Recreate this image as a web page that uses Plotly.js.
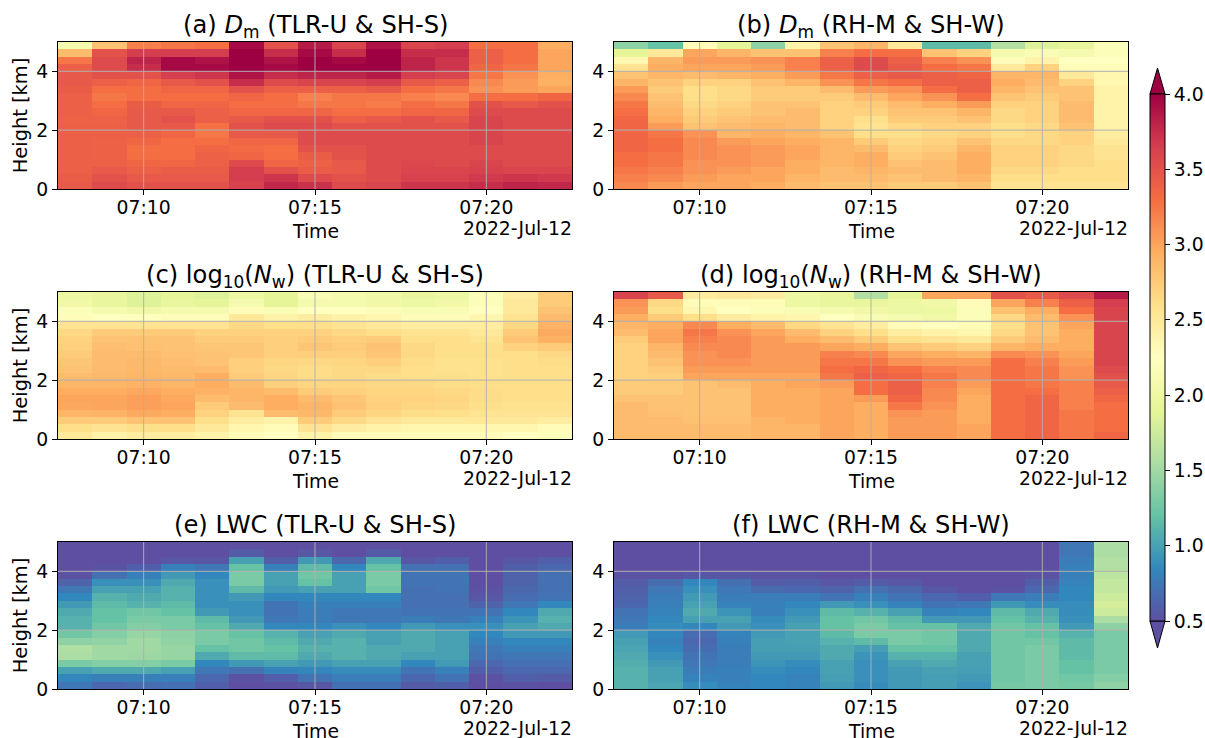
<!DOCTYPE html>
<html><head><meta charset="utf-8"><script src="https://cdn.plot.ly/plotly-3.0.1.min.js"></script>
<style>html,body{margin:0;padding:0;background:#fff}</style></head><body><div id="chart" style="width:1205px;height:738px"></div>
<script>
const times=['07:08','07:09','07:10','07:11','07:12','07:13','07:14','07:15','07:16','07:17','07:18','07:19','07:20','07:21','07:22'];
const heights=[4.875,4.625,4.375,4.125,3.875,3.625,3.375,3.125,2.875,2.625,2.375,2.125,1.875,1.625,1.375,1.125,0.875,0.625,0.375,0.125];
const gridTimes=['07:10','07:15','07:20'];
const gridHeights=[2,4];
const titles=['(a) <i>D</i><sub>m</sub> (TLR-U & SH-S)','(b) <i>D</i><sub>m</sub> (RH-M & SH-W)','(c) log<sub>10</sub>(<i>N</i><sub>w</sub>) (TLR-U & SH-S)','(d) log<sub>10</sub>(<i>N</i><sub>w</sub>) (RH-M & SH-W)','(e) LWC (TLR-U & SH-S)','(f) LWC (RH-M & SH-W)'];
const dmTLR=[
[2.1,2.8,3.2,3.25,3.3,3.95,3.5,3.85,3.6,3.9,3.6,3.65,3.3,3.3,2.95],
[2.85,3.5,3.65,3.65,3.65,4.0,3.75,3.95,3.75,4.0,3.75,3.75,3.4,3.3,3.0],
[3.25,3.55,3.8,3.95,3.9,4.0,3.9,4.0,3.95,4.0,3.8,3.7,3.4,3.3,3.0],
[3.4,3.55,3.75,3.95,3.95,4.0,3.95,4.0,4.0,4.0,3.8,3.7,3.35,3.25,3.0],
[3.45,3.5,3.5,3.65,3.7,3.9,3.75,3.8,3.8,3.85,3.65,3.6,3.25,3.1,2.95],
[3.45,3.4,3.35,3.45,3.5,3.75,3.55,3.6,3.6,3.65,3.45,3.4,3.15,3.05,2.93],
[3.42,3.3,3.3,3.35,3.35,3.5,3.4,3.4,3.4,3.45,3.3,3.25,3.1,3.05,3.0],
[3.4,3.25,3.3,3.3,3.3,3.35,3.3,3.2,3.25,3.25,3.2,3.15,3.3,3.3,3.35],
[3.4,3.3,3.42,3.35,3.35,3.3,3.3,3.25,3.25,3.22,3.3,3.25,3.5,3.45,3.5],
[3.4,3.35,3.45,3.45,3.4,3.35,3.35,3.35,3.3,3.3,3.35,3.35,3.55,3.55,3.55],
[3.38,3.38,3.45,3.5,3.4,3.45,3.5,3.5,3.4,3.45,3.5,3.45,3.6,3.55,3.55],
[3.4,3.4,3.45,3.45,3.28,3.5,3.55,3.55,3.5,3.5,3.5,3.5,3.6,3.55,3.55],
[3.4,3.4,3.4,3.35,3.25,3.45,3.45,3.55,3.55,3.55,3.55,3.55,3.6,3.55,3.55],
[3.4,3.38,3.35,3.3,3.3,3.35,3.35,3.55,3.55,3.55,3.55,3.55,3.6,3.55,3.55],
[3.4,3.38,3.3,3.3,3.35,3.32,3.3,3.5,3.5,3.55,3.55,3.55,3.55,3.55,3.55],
[3.4,3.38,3.3,3.3,3.38,3.35,3.3,3.42,3.5,3.55,3.55,3.55,3.55,3.55,3.55],
[3.4,3.4,3.35,3.35,3.4,3.55,3.35,3.38,3.45,3.55,3.58,3.55,3.6,3.55,3.55],
[3.4,3.45,3.4,3.42,3.42,3.65,3.5,3.42,3.45,3.55,3.6,3.6,3.62,3.6,3.6],
[3.42,3.5,3.45,3.45,3.45,3.65,3.7,3.55,3.5,3.55,3.62,3.62,3.68,3.7,3.68],
[3.45,3.55,3.5,3.5,3.5,3.62,3.78,3.72,3.55,3.6,3.7,3.7,3.75,3.8,3.78]];
const dmRH=[
[1.4,1.2,2.3,1.9,1.4,2.4,2.8,2.9,2.5,1.15,1.15,1.6,1.85,1.95,2.2],
[1.9,2.5,3.0,2.9,2.8,2.8,3.2,3.3,3.3,2.8,2.7,2.1,2.15,2.1,2.2],
[2.35,2.9,3.05,3.05,3.1,3.2,3.4,3.55,3.4,3.2,3.1,2.3,2.4,2.25,2.25],
[2.55,2.95,3.0,3.0,3.05,3.2,3.4,3.55,3.45,3.3,3.25,2.5,2.7,2.3,2.3],
[2.8,2.9,2.85,2.9,2.95,3.05,3.25,3.4,3.45,3.4,3.35,2.9,2.9,2.5,2.35],
[2.9,2.8,2.7,2.7,2.8,2.9,3.1,3.25,3.3,3.4,3.4,2.95,2.85,2.7,2.35],
[3.05,2.75,2.6,2.65,2.75,2.75,2.85,3.05,3.1,3.3,3.4,2.9,2.8,2.8,2.4],
[3.15,2.8,2.6,2.65,2.75,2.75,2.75,2.85,3.0,3.1,3.3,2.8,2.75,2.8,2.4],
[3.25,2.85,2.65,2.7,2.8,2.8,2.7,2.75,2.85,2.95,3.05,2.7,2.7,2.85,2.4],
[3.3,2.9,2.7,2.75,2.8,2.85,2.7,2.7,2.8,2.8,2.9,2.65,2.7,2.85,2.4],
[3.35,2.95,2.75,2.8,2.85,2.85,2.7,2.6,2.75,2.75,2.8,2.65,2.7,2.85,2.4],
[3.35,3.05,2.8,2.85,2.9,2.85,2.7,2.55,2.65,2.7,2.7,2.6,2.65,2.8,2.4],
[3.35,3.25,3.1,2.9,2.95,2.9,2.8,2.6,2.6,2.65,2.7,2.6,2.65,2.7,2.45],
[3.35,3.3,3.15,3.05,3.0,2.95,2.9,2.75,2.65,2.7,2.8,2.65,2.65,2.7,2.5],
[3.35,3.3,3.15,3.1,3.05,3.0,2.9,2.85,2.7,2.75,2.9,2.7,2.7,2.65,2.55],
[3.3,3.25,3.15,3.1,3.05,3.0,2.9,2.95,2.75,2.8,2.95,2.7,2.7,2.65,2.55],
[3.3,3.25,3.1,3.1,3.05,2.95,2.9,2.95,2.8,2.85,2.95,2.7,2.7,2.65,2.6],
[3.25,3.2,3.1,3.05,3.0,2.95,2.85,2.9,2.85,2.85,2.95,2.65,2.65,2.6,2.6],
[3.2,3.15,3.05,3.0,3.0,2.9,2.85,2.85,2.8,2.85,2.9,2.6,2.6,2.6,2.6],
[3.15,3.05,3.0,3.0,2.95,2.85,2.8,2.8,2.75,2.75,2.8,2.55,2.55,2.55,2.55]];
const nwTLR=[
[2.0,1.95,1.85,1.9,1.85,2.0,1.9,2.15,2.1,2.05,1.95,2.0,2.2,2.45,2.75],
[2.05,1.95,1.85,1.95,1.9,2.1,1.9,2.1,2.1,2.05,2.0,2.05,2.2,2.5,2.75],
[2.2,2.1,2.05,2.1,2.1,2.3,2.15,2.25,2.25,2.2,2.15,2.15,2.25,2.5,2.8],
[2.3,2.25,2.25,2.3,2.3,2.5,2.4,2.45,2.4,2.35,2.3,2.3,2.35,2.55,2.85],
[2.55,2.55,2.55,2.55,2.55,2.65,2.6,2.6,2.55,2.5,2.45,2.45,2.45,2.65,2.92],
[2.65,2.75,2.75,2.75,2.7,2.7,2.7,2.7,2.65,2.6,2.55,2.55,2.5,2.75,2.97],
[2.7,2.8,2.8,2.8,2.75,2.75,2.72,2.75,2.72,2.75,2.6,2.6,2.55,2.8,2.93],
[2.72,2.83,2.82,2.8,2.78,2.78,2.72,2.78,2.75,2.8,2.65,2.6,2.6,2.7,2.75],
[2.75,2.85,2.85,2.82,2.8,2.78,2.72,2.72,2.72,2.78,2.65,2.6,2.6,2.6,2.65],
[2.78,2.85,2.87,2.83,2.8,2.72,2.68,2.65,2.68,2.72,2.62,2.58,2.58,2.6,2.62],
[2.8,2.85,2.88,2.85,2.85,2.72,2.65,2.62,2.65,2.65,2.6,2.58,2.58,2.6,2.6],
[2.85,2.87,2.9,2.88,2.95,2.75,2.68,2.62,2.65,2.62,2.6,2.6,2.58,2.6,2.6],
[2.9,2.9,2.92,2.9,2.95,2.85,2.72,2.68,2.68,2.65,2.65,2.62,2.6,2.6,2.6],
[2.95,2.95,2.98,2.95,2.92,2.9,2.85,2.75,2.72,2.68,2.68,2.65,2.62,2.6,2.6],
[3.0,3.0,3.03,2.98,2.85,2.9,2.95,2.85,2.78,2.7,2.7,2.68,2.62,2.6,2.6],
[2.98,3.0,3.03,3.0,2.75,2.85,2.95,2.9,2.8,2.72,2.68,2.65,2.6,2.58,2.58],
[2.9,2.92,2.97,2.95,2.7,2.55,2.85,2.88,2.75,2.68,2.62,2.6,2.55,2.55,2.55],
[2.75,2.75,2.8,2.8,2.6,2.45,2.4,2.75,2.65,2.55,2.5,2.5,2.5,2.5,2.45],
[2.6,2.55,2.6,2.6,2.5,2.35,2.3,2.55,2.45,2.4,2.35,2.35,2.35,2.35,2.3],
[2.5,2.4,2.45,2.45,2.4,2.3,2.25,2.4,2.3,2.3,2.3,2.3,2.3,2.25,2.2]];
const nwRH=[
[3.6,3.45,2.45,2.5,2.45,2.0,1.95,1.6,1.9,3.0,3.0,3.5,3.45,3.55,3.85],
[3.1,2.65,2.3,2.3,2.3,2.0,1.95,1.95,2.0,2.05,2.3,3.0,3.2,3.4,3.65],
[3.05,2.6,2.35,2.25,2.2,2.15,2.1,2.05,2.0,2.0,2.2,2.8,2.95,3.3,3.6],
[2.95,2.75,2.6,2.45,2.4,2.35,2.25,2.15,2.1,2.05,2.2,2.65,2.85,3.1,3.6],
[2.9,2.95,3.15,2.95,2.85,2.65,2.55,2.45,2.3,2.25,2.3,2.6,2.8,3.0,3.6],
[2.85,3.0,3.25,3.1,3.0,2.85,2.7,2.6,2.45,2.4,2.35,2.65,2.8,2.95,3.6],
[2.75,3.0,3.2,3.15,3.05,2.95,2.85,2.75,2.6,2.55,2.5,2.75,2.85,2.95,3.6],
[2.7,2.9,3.15,3.15,3.05,3.05,3.0,2.95,2.8,2.75,2.7,2.9,2.95,2.95,3.6],
[2.7,2.85,3.1,3.15,3.05,3.05,3.2,3.15,3.0,2.95,2.9,3.15,3.1,3.0,3.6],
[2.7,2.8,3.1,3.1,3.05,3.05,3.25,3.25,3.1,3.05,3.05,3.3,3.2,3.05,3.6],
[2.7,2.75,3.05,3.05,3.05,3.05,3.3,3.35,3.3,3.2,3.15,3.3,3.25,3.1,3.55],
[2.7,2.72,3.0,3.0,3.0,3.0,3.25,3.4,3.35,3.25,3.15,3.3,3.25,3.1,3.5],
[2.75,2.75,2.8,2.85,2.95,3.0,3.05,3.3,3.4,3.2,3.05,3.3,3.25,3.2,3.45],
[2.75,2.75,2.8,2.8,2.95,2.95,3.0,3.3,3.4,3.15,3.0,3.3,3.3,3.2,3.4],
[2.8,2.8,2.8,2.8,2.95,2.95,3.0,3.05,3.35,3.15,2.95,3.3,3.35,3.2,3.35],
[2.85,2.8,2.8,2.8,2.95,2.95,3.0,2.95,3.25,3.1,2.95,3.3,3.35,3.2,3.3],
[2.85,2.82,2.8,2.8,2.95,2.95,3.0,2.95,3.1,3.05,2.95,3.3,3.35,3.25,3.3],
[2.85,2.85,2.82,2.82,2.9,2.95,3.0,2.95,3.05,3.05,2.95,3.3,3.35,3.25,3.3],
[2.85,2.85,2.85,2.85,2.9,2.9,3.0,2.95,3.05,3.05,3.0,3.3,3.35,3.25,3.3],
[2.85,2.85,2.85,2.85,2.9,2.9,3.0,2.95,3.05,3.05,3.0,3.3,3.35,3.25,3.35]];
const lwcTLR=[
[.5,.5,.5,.5,.5,.5,.5,.5,.5,.5,.5,.5,.5,.5,.5],
[.5,.5,.5,.5,.5,.58,.5,.55,.5,.58,.5,.5,.5,.5,.5],
[.5,.5,.5,.55,.55,1.0,.6,.95,.65,1.05,.55,.6,.5,.55,.6],
[.5,.52,.6,.8,.75,1.2,.8,1.15,.85,1.2,.7,.7,.5,.6,.65],
[.52,.7,.8,.95,.85,1.3,1.0,1.25,1.0,1.3,.72,.72,.5,.62,.7],
[.62,.9,.9,1.05,.9,1.3,1.0,1.2,1.0,1.3,.72,.72,.5,.62,.7],
[.75,1.0,1.0,1.1,.9,1.15,.95,1.0,1.0,1.25,.7,.72,.52,.65,.7],
[.85,1.1,1.05,1.1,.9,.95,.85,.85,.85,.85,.7,.7,.55,.68,.72],
[.95,1.15,1.1,1.15,.9,.9,.72,.8,.8,.8,.7,.7,.62,.75,.85],
[1.05,1.2,1.25,1.2,.95,.9,.72,.78,.75,.75,.72,.72,.72,.85,1.05],
[1.1,1.2,1.3,1.3,1.15,.95,.75,.78,.75,.75,.78,.75,.8,.92,1.1],
[1.1,1.25,1.35,1.3,1.2,1.05,.85,.85,.9,.85,.95,.9,.9,1.0,1.05],
[1.25,1.35,1.45,1.4,1.3,1.2,1.1,1.0,1.05,1.0,1.05,1.0,.85,.95,.95],
[1.4,1.42,1.5,1.42,1.3,1.25,1.15,1.05,1.1,1.0,1.05,1.0,.8,.85,.85],
[1.58,1.5,1.5,1.45,1.2,1.25,1.2,1.1,1.1,1.05,1.05,1.0,.75,.8,.8],
[1.55,1.5,1.48,1.45,1.05,1.15,1.15,1.05,1.1,1.05,1.0,1.0,.72,.75,.75],
[1.3,1.35,1.35,1.3,.85,.95,1.0,.95,1.0,1.0,.85,.95,.65,.7,.7],
[1.0,1.05,1.05,1.0,.75,.7,.82,.85,.88,.88,.72,.8,.6,.65,.65],
[.85,.8,.8,.8,.65,.52,.6,.72,.78,.78,.65,.72,.52,.6,.58],
[.75,.65,.68,.7,.6,.5,.52,.55,.7,.7,.58,.6,.5,.52,.5]];
const lwcRH=[
[.5,.5,.5,.5,.5,.5,.5,.5,.5,.5,.5,.5,.5,.75,1.55],
[.5,.5,.5,.5,.5,.5,.5,.5,.5,.5,.5,.5,.5,.75,1.55],
[.5,.5,.5,.5,.5,.5,.5,.5,.5,.5,.5,.5,.5,.78,1.6],
[.5,.5,.5,.5,.5,.5,.5,.5,.5,.5,.5,.5,.5,.8,1.6],
[.52,.52,.55,.55,.52,.52,.5,.5,.5,.5,.5,.5,.52,.8,1.65],
[.58,.68,.85,.7,.58,.6,.55,.58,.55,.5,.5,.5,.6,.82,1.7],
[.6,.75,.9,.75,.68,.65,.62,.7,.65,.55,.5,.52,.65,.85,1.7],
[.62,.78,.95,.78,.78,.78,.72,.8,.72,.65,.6,.75,.78,.85,1.75],
[.65,.8,1.0,.82,.8,.85,.95,.9,.82,.72,.75,.95,.88,.88,1.8],
[.72,.82,1.05,.92,.8,.9,1.15,1.1,1.0,.82,.85,1.15,1.05,.88,1.75],
[.75,.85,1.0,1.0,.88,.95,1.2,1.25,1.15,.95,.95,1.2,1.1,.9,1.55],
[.78,.88,.85,.95,.9,1.0,1.2,1.3,1.2,1.2,1.05,1.25,1.2,.95,1.4],
[.95,.85,.68,.82,.95,1.0,1.15,1.3,1.3,1.25,1.05,1.25,1.2,1.1,1.3],
[1.0,.82,.65,.8,.98,1.0,1.1,1.15,1.3,1.25,1.05,1.25,1.25,1.15,1.3],
[1.02,.85,.68,.78,.98,.98,1.05,.98,1.2,1.2,1.05,1.25,1.3,1.15,1.3],
[1.05,.9,.72,.78,.95,.95,1.05,.92,1.1,1.1,1.0,1.25,1.3,1.15,1.3],
[1.08,.95,.75,.78,.92,.88,1.0,.9,1.0,1.05,1.0,1.25,1.3,1.2,1.3],
[1.1,1.0,.78,.8,.88,.85,1.0,.9,.95,1.0,.98,1.25,1.3,1.2,1.3],
[1.1,1.0,.82,.8,.85,.82,.98,.9,.95,.98,.95,1.25,1.3,1.25,1.35],
[1.1,1.02,.88,.82,.85,.82,.95,.88,.95,.98,.92,1.28,1.3,1.28,1.4]];
const panels=[dmTLR,dmRH,nwTLR,nwRH,lwcTLR,lwcRH];
const spectralR=['#5e4fa2','#3288bd','#66c2a5','#abdda4','#e6f598','#ffffbf','#fee08b','#fdae61','#f46d43','#d53e4f','#9e0142'];

const W=1205,H=738,FONT='"DejaVu Sans"',FS=18.8;
const day=s=>'2022-07-12 '+s;
const colL=[58,614],colW=514,rowT=[42,292,542],rowH=147;
const layout={width:W,height:H,margin:{l:0,r:0,t:0,b:0},paper_bgcolor:'#fff',plot_bgcolor:'#fff',
 font:{family:FONT,size:FS,color:'#000'},showlegend:false,shapes:[],annotations:[],
 coloraxis:{cmin:.5,cmax:4,colorscale:spectralR.map((c,i)=>[i/10,c]),
  colorbar:{x:1150/W,xanchor:'left',xpad:0,ypad:0,y:1-357.5/H,yanchor:'middle',len:527,lenmode:'pixels',thickness:15,thicknessmode:'pixels',
   outlinecolor:'#000',outlinewidth:1,ticks:'outside',ticklen:5,tickcolor:'#000',tickwidth:1,tick0:.5,dtick:.5,tickformat:'.1f',tickfont:{size:FS}}}};
const traces=panels.map((z,i)=>{
 const r=Math.floor(i/2),c=i%2,id=i===0?'':String(i+1);
 const xa='xaxis'+id,ya='yaxis'+id;
 layout[xa]={domain:[colL[c]/W,(colL[c]+colW)/W],anchor:'y'+id,type:'date',range:[day('07:07:30'),day('07:22:30')],
  tickmode:'array',tickvals:gridTimes.map(day),ticktext:gridTimes,ticks:'outside',ticklen:5,tickwidth:1,tickcolor:'#000',ticklabelstandoff:-4,showgrid:false,zeroline:false,
  showline:true,mirror:true,linecolor:'#000',linewidth:1,tickfont:{size:FS}};
 layout[ya]={domain:[1-(rowT[r]+rowH)/H,1-rowT[r]/H],anchor:'x'+id,range:[0,5],tickvals:[0].concat(gridHeights),ticks:'outside',ticklen:5,tickwidth:1,tickcolor:'#000',
  showgrid:false,zeroline:false,showline:true,mirror:true,linecolor:'#000',linewidth:1,tickfont:{size:FS}};
 if(c===0) layout[ya].title={text:'Height [km]',font:{size:FS+.6},standoff:3};
 const dom={xref:'x'+id+' domain',yref:'y'+id+' domain',showarrow:false};
 layout.annotations.push({...dom,text:titles[i],x:.5,y:1,xanchor:'center',yanchor:'bottom',yshift:r===2?1:-2,font:{size:24.2}});
 layout.annotations.push({...dom,text:'Time',x:.5,y:0,xanchor:'center',yanchor:'middle',yshift:-42,font:{size:FS}});
 layout.annotations.push({...dom,text:'2022-Jul-12',x:1,y:0,xanchor:'right',yanchor:'middle',xshift:2,yshift:-39,font:{size:FS}});
 gridTimes.forEach(t=>layout.shapes.push({type:'line',xref:'x'+id,yref:'y'+id+' domain',x0:day(t),x1:day(t),y0:0,y1:1,line:{color:'rgba(176,176,176,.95)',width:1},layer:'above'}));
 gridHeights.forEach(h=>layout.shapes.push({type:'line',xref:'x'+id+' domain',yref:'y'+id,x0:0,x1:1,y0:h,y1:h,line:{color:'rgba(176,176,176,.8)',width:1.3},layer:'above'}));
 return {type:'heatmap',x:times.map(day),y:heights,z:z,coloraxis:'coloraxis',xaxis:'x'+id,yaxis:'y'+id,hoverinfo:'skip'};
});
const px=x=>x/W,py=y=>1-y/H;
const tri=(y0,y1,col)=>({type:'path',xref:'paper',yref:'paper',path:`M ${px(1150)} ${py(y0)} L ${px(1157.5)} ${py(y1)} L ${px(1165)} ${py(y0)} Z`,fillcolor:col,line:{color:'#000',width:1},layer:'above'});
layout.shapes.push(tri(94,68,spectralR[10]),tri(621,648,spectralR[0]));
Plotly.newPlot('chart',traces,layout,{staticPlot:true,displayModeBar:false});
</script></body></html>
